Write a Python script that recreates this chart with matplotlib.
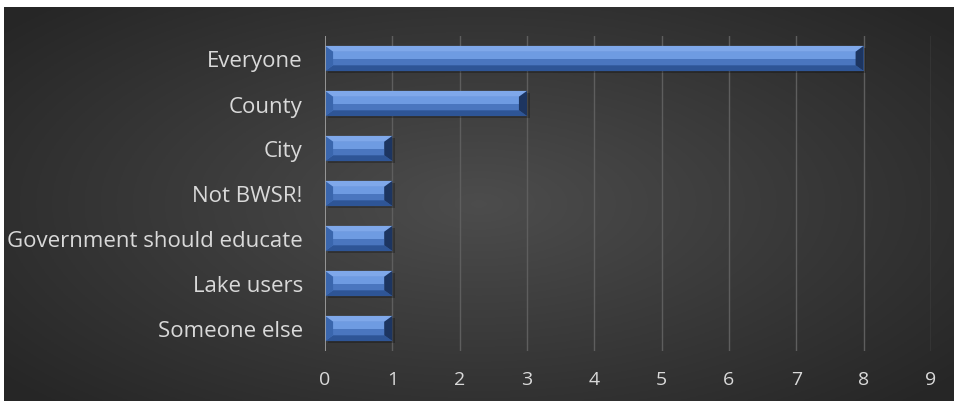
import numpy as np
import matplotlib.pyplot as plt
from matplotlib.patches import Polygon, Rectangle

# 데이터
categories = ["Everyone", "County", "City", "Not BWSR!",
              "Government should educate", "Lake users", "Someone else"]
counts = [8, 3, 1, 1, 1, 1, 1]
x_ticks = list(range(0, 10))

W, H = 959, 406
fig = plt.figure(figsize=(W / 100, H / 100), dpi=100)
fig.patch.set_facecolor("white")

# 배경 (방사형 그라데이션)
bg = fig.add_axes([4 / W, 4 / H, 950 / W, 394 / H])
yy, xx = np.mgrid[-1:1:200j, -1:1:400j]
r = np.sqrt((xx / 1.0) ** 2 + (yy / 1.1) ** 2)
shade = 0.30 - 0.15 * np.clip(r, 0, 1.3) / 1.3
img = np.dstack([shade, shade, shade])
bg.imshow(img, aspect="auto", extent=[0, 1, 0, 1])
bg.set_axis_off()

ax = fig.add_axes([325 / W, 54 / H, 606 / W, 315 / H])
ax.set_facecolor("none")
ax.set_xlim(0, 9)
ax.set_ylim(len(categories) - 0.5, -0.5)

# 격자선
for x in x_ticks[1:]:
    ax.axvline(x, color="#5e5e5e", lw=1.0, zorder=0)
ax.axvline(0, color="#a6a6a6", lw=1.2, zorder=5)

h = 0.56
bx = 0.12
by = 0.13
for i, v in enumerate(counts):
    top, bot = i - h / 2, i + h / 2
    # 그림자
    ax.add_patch(Rectangle((0.04, top + 0.05), v, h, color="black", alpha=0.25, lw=0, zorder=1))
    # 본체
    ax.barh(i, v, height=h, color="#4f7fcc", zorder=2)
    ax.add_patch(Rectangle((bx, top + by), v - 2 * bx, (h - 2 * by) / 2,
                           color="#6e9be2", lw=0, zorder=3))
    ax.add_patch(Rectangle((bx, i), v - 2 * bx, (h - 2 * by) / 2,
                           color="#4a76bf", lw=0, zorder=3))
    # 경사면
    ax.add_patch(Polygon([(0, top), (v, top), (v - bx, top + by), (bx, top + by)],
                         closed=True, color="#7fa8ea", lw=0, zorder=3))
    ax.add_patch(Polygon([(0, bot), (v, bot), (v - bx, bot - by), (bx, bot - by)],
                         closed=True, color="#2e5596", lw=0, zorder=3))
    ax.add_patch(Polygon([(0, top), (bx, top + by), (bx, bot - by), (0, bot)],
                         closed=True, color="#3a66ad", lw=0, zorder=3))
    ax.add_patch(Polygon([(v, top), (v - bx, top + by), (v - bx, bot - by), (v, bot)],
                         closed=True, color="#1d3560", lw=0, zorder=3))

ax.set_yticks(range(len(categories)))
ax.set_yticklabels(categories)
ax.set_xticks(x_ticks)
ax.tick_params(length=0, colors="#d9d9d9")
ax.tick_params(axis="y", pad=16, labelsize=16)
ax.tick_params(axis="x", pad=14, labelsize=14)
for lab in ax.get_xticklabels() + ax.get_yticklabels():
    lab.set_fontfamily("Open Sans")
for s in ax.spines.values():
    s.set_visible(False)

plt.savefig("out.png", dpi=100, facecolor=fig.get_facecolor())
